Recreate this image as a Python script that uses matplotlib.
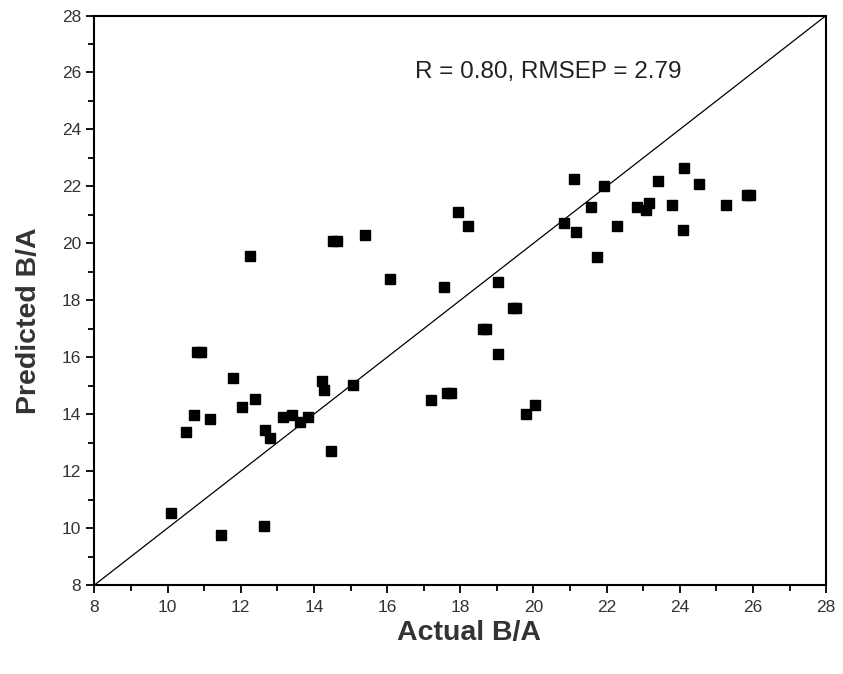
import matplotlib
matplotlib.use("Agg")
import matplotlib.pyplot as plt
import numpy as np

# actual vs predicted B/A values
actual = [10.09, 11.47, 12.63, 10.50, 10.73, 11.17, 10.80, 10.92, 11.78, 12.04,
          12.40, 12.66, 12.79, 13.16, 13.41, 13.61, 13.85, 14.22, 14.28, 14.47,
          15.06, 12.25, 14.52, 14.64, 15.40, 16.07, 17.55, 17.19, 17.64, 17.76,
          17.93, 18.22, 19.03, 19.43, 19.53, 18.62, 18.70, 19.04, 20.03, 19.79,
          21.10, 21.92, 23.41, 24.12, 24.53, 21.56, 22.84, 23.16, 23.07, 23.78,
          25.26, 25.83, 25.93, 20.83, 21.15, 22.27, 24.09, 21.74]
predicted = [10.54, 9.74, 10.07, 13.37, 13.96, 13.82, 16.20, 16.20, 15.28, 14.26,
             14.55, 13.43, 13.16, 13.90, 13.96, 13.73, 13.90, 15.17, 14.85, 12.72,
             15.02, 19.55, 20.08, 20.08, 20.30, 18.75, 18.48, 14.49, 14.75, 14.75,
             21.10, 20.60, 18.64, 17.72, 17.72, 16.99, 16.99, 16.12, 14.33, 14.01,
             22.25, 22.00, 22.18, 22.65, 22.07, 21.28, 21.26, 21.42, 21.18, 21.36,
             21.36, 21.70, 21.70, 20.72, 20.38, 20.62, 20.45, 19.52]
ticks = np.arange(8, 29, 2)
stats_text = "R = 0.80, RMSEP = 2.79"

plt.rcParams["font.family"] = ["Liberation Sans", "DejaVu Sans"]

fig = plt.figure(figsize=(8.43, 6.74), dpi=100)
ax = fig.add_axes([0.112, 0.132, 0.868, 0.845])

ax.plot([8, 28], [8, 28], color="black", lw=0.9)
ax.plot(actual, predicted, "s", color="black", markersize=7, linestyle="none")

ax.set_xlim(8, 28)
ax.set_ylim(8, 28)
ax.set_xticks(ticks)
ax.set_yticks(ticks)
ax.set_xticks(np.arange(9, 28, 2), minor=True)
ax.set_yticks(np.arange(9, 28, 2), minor=True)
ax.tick_params(which="major", direction="out", length=6, width=1.3,
               labelsize=12.5, labelcolor="#333333")
ax.tick_params(axis="x", which="major", pad=5)
ax.tick_params(which="minor", direction="out", length=4, width=1.3)
for s in ax.spines.values():
    s.set_linewidth(1.5)

ax.text(16.75, 26.0, stats_text, fontsize=17.5, color="#222222", va="center")

ax.set_xlabel("Actual B/A", fontsize=20.5, fontweight="bold", color="#333333", va="center")
ax.set_ylabel("Predicted B/A", fontsize=20.5, fontweight="bold", color="#333333", va="center")
ax.xaxis.set_label_coords(0.512, -0.084)
ax.yaxis.set_label_coords(-0.09, 0.465)

fig.savefig("out.png", dpi=100)
